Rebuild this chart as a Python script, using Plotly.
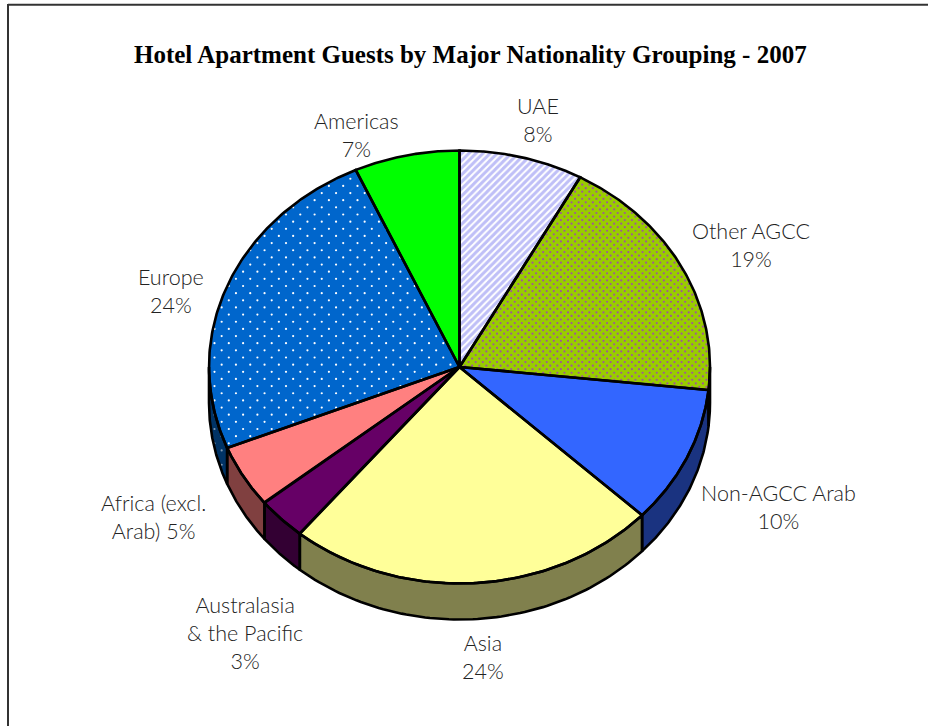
import numpy as np
import plotly.graph_objects as go

categories = ["UAE", "Other AGCC", "Non-AGCC Arab", "Asia", "Australasia & the Pacific",
              "Africa (excl. Arab)", "Europe", "Americas"]
values = [8.0, 18.7, 10.3, 24.0, 3.2, 4.7, 24.3, 6.8]
label_lines = [["UAE", "8%"], ["Other AGCC", "19%"], ["Non-AGCC Arab", "10%"], ["Asia", "24%"],
               ["Australasia", "& the Pacific", "3%"], ["Africa (excl.", "Arab) 5%"], ["Europe", "24%"], ["Americas", "7%"]]
label_x = [538, 751, 778, 483, 245, 153, 171, 356]
label_y = [120, 245, 507, 657, 633, 517, 291, 135]
top_colors = ["#ffffff", "#99cc00", "#3366ff", "#ffff99", "#660066", "#ff8080", "#0066cc", "#00ff00"]
side_colors = ["#808080", "#4d6600", "#1a3380", "#80804d", "#330033", "#804040", "#003366", "#008000"]
title_text = "Hotel Apartment Guests by Major Nationality Grouping - 2007"

CX, CY, RX, RY, DEPTH = 459.5, 367.0, 250.5, 216.5, 36.0
LABEL_FONT = "Lato"
LW = 2.6


def ex(t):
    return CX + RX * np.sin(t)


def ey(t):
    return CY - RY * np.cos(t)


def lattice_in_wedge(a, b, dx, dy):
    """Staggered fill-pattern dots that fall inside the top-face wedge a..b."""
    rows = np.arange(0, 760, dy)
    px, py = [], []
    for k, yy in enumerate(rows):
        xs = np.arange(dx / 2 * (k % 2), 940, dx)
        ux, uy = (xs - CX) / RX, (CY - yy) / RY
        ang = np.mod(np.arctan2(ux, uy), 2 * np.pi)
        inside = (ux ** 2 + uy ** 2 < 1) & (ang > a) & (ang < b)
        px.extend(xs[inside])
        py.extend([yy] * int(inside.sum()))
    return px, py


def lattice_on_wall(a, b, dx, dy):
    """Same dots, for the part of the left side wall under angles a..b."""
    px, py = [], []
    for k, yy in enumerate(np.arange(0, 760, dy)):
        for xx in np.arange(dx / 2 * (k % 2), 940, dx):
            u = (xx - CX) / RX
            if u >= 0 or u <= -1:
                continue
            t = np.pi + np.arcsin(-u)
            if a < t < b and ey(t) < yy < ey(t) + DEPTH:
                px.append(xx)
                py.append(yy)
    return px, py


fracs = np.array(values) / sum(values)
edges = np.concatenate([[0], np.cumsum(fracs)]) * 2 * np.pi

fig = go.Figure()
outlines = []

# side walls: only the front half (pi/2 .. 3pi/2) shows
for i in range(len(values)):
    a, b = max(edges[i], np.pi / 2), min(edges[i + 1], 3 * np.pi / 2)
    if b <= a:
        continue
    t = np.linspace(a, b, 80)
    xs = np.concatenate([ex(t), ex(t[::-1]), ex(t[:1])])
    ys = np.concatenate([ey(t), ey(t[::-1]) + DEPTH, ey(t[:1])])
    fig.add_trace(go.Scatter(x=xs, y=ys, mode="lines", fill="toself", fillcolor=side_colors[i],
                             line=dict(width=0), hoverinfo="skip"))
    outlines.append((xs, ys))
    if i == 6:
        px, py = lattice_on_wall(a, b, 14.3, 7.15)
        fig.add_trace(go.Scatter(x=px, y=py, mode="markers", hoverinfo="skip",
                                 marker=dict(color="#7f99b3", size=2.2, line=dict(width=0))))

# top faces
for i in range(len(values)):
    t = np.linspace(edges[i], edges[i + 1], 120)
    xs = np.concatenate([[CX], ex(t), [CX]])
    ys = np.concatenate([[CY], ey(t), [CY]])
    kw = {}
    if i == 0:
        kw["fillpattern"] = dict(shape="/", fgcolor="#8080f0", bgcolor="#ffffff", size=5, solidity=0.6)
    fig.add_trace(go.Scatter(x=xs, y=ys, mode="lines", fill="toself", fillcolor=top_colors[i],
                             line=dict(width=0), name=categories[i], hoverinfo="name", **kw))
    outlines.append((xs, ys))
    if i == 1:
        px, py = lattice_in_wedge(edges[i], edges[i + 1], 7.1, 3.55)
        fig.add_trace(go.Scatter(x=px, y=py, mode="markers", hoverinfo="skip",
                                 marker=dict(color="#a0569a", size=2.2, line=dict(width=0))))
    if i == 6:
        px, py = lattice_in_wedge(edges[i], edges[i + 1], 14.3, 7.15)
        fig.add_trace(go.Scatter(x=px, y=py, mode="markers", hoverinfo="skip",
                                 marker=dict(color="#ffffff", size=2.2, line=dict(width=0))))

# black outlines above every fill
for xs, ys in outlines:
    fig.add_trace(go.Scatter(x=xs, y=ys, mode="lines", hoverinfo="skip",
                             line=dict(color="#000000", width=LW)))

# labels
for lines, lx, ly in zip(label_lines, label_x, label_y):
    fig.add_annotation(x=lx, y=ly, text="<br>".join(lines), showarrow=False, align="center",
                       font=dict(family=LABEL_FONT, size=21.5, color="#222222", weight=300))

fig.add_annotation(x=470, y=54, text="<b>" + title_text + "</b>", showarrow=False,
                   font=dict(family="Liberation Serif", size=25, color="#000000"))

# outer frame
fig.add_shape(type="line", x0=8, x1=8, y0=4, y1=726, line=dict(color="#333333", width=2))
fig.add_shape(type="line", x0=8, x1=928, y0=4.8, y1=4.8, line=dict(color="#333333", width=2))

fig.update_layout(width=928, height=726, margin=dict(l=0, r=0, t=0, b=0), showlegend=False,
                  paper_bgcolor="#ffffff", plot_bgcolor="#ffffff",
                  xaxis=dict(range=[0, 928], visible=False, fixedrange=True),
                  yaxis=dict(range=[726, 0], visible=False, fixedrange=True))
fig.write_html("out.html", config=dict(displayModeBar=False),
               post_script="document.body.style.margin='0';")
